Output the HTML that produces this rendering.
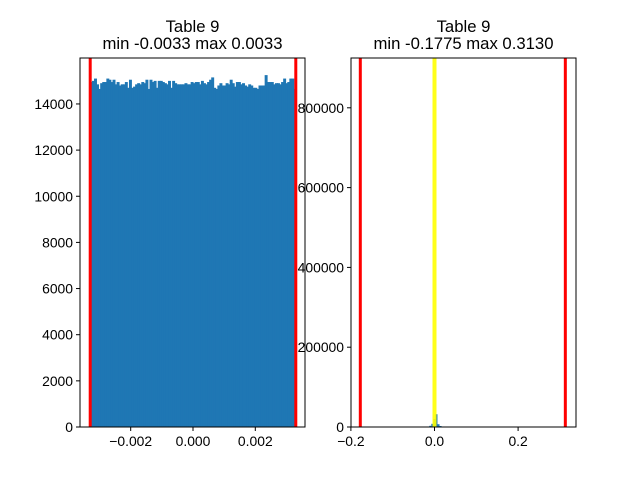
<!DOCTYPE html>
<html><head><meta charset="utf-8"><style>
body{margin:0;background:#fff}
svg{display:block;font-family:"Liberation Sans","DejaVu Sans",sans-serif}
</style></head><body>
<svg id="c" width="640" height="480"></svg>
<script>
const leftCounts=[14950,15000,15100,14850,14650,14900,14950,14950,15100,15050,14950,15050,14850,14950,14800,14850,14850,14950,14700,15050,14700,14750,14850,14900,14850,14950,14900,15050,14650,15050,14950,15000,14700,15000,15000,14950,14900,14850,15000,14700,15000,14900,14850,14850,14850,14850,14900,14850,14850,14950,14900,14950,14950,14850,15000,14900,14850,14950,15050,15150,14700,14650,14800,14900,14800,14800,14900,14850,15050,14900,14750,14950,14950,14850,14900,14800,14750,14850,14800,14700,14700,14650,14800,14800,14800,15250,14950,14950,14950,14850,14900,14900,14850,14950,15100,14900,14950,15100,15100,14650];
const leftMin=-0.0033, leftMax=0.0033;
const rightBins=[[-0.0125,3000],[-0.0076,8000],[-0.0027,20000],[0.0022,32000],[0.0071,7000],[0.012,2500]];
const rightBinW=0.0049;
const leftXTicks=[-0.002,0,0.002], leftXLabels=["\u22120.002","0.000","0.002"];
const leftYTicks=[0,2000,4000,6000,8000,10000,12000,14000];
const rightXTicks=[-0.2,0,0.2], rightXLabels=["\u22120.2","0.0","0.2"];
const rightYTicks=[0,200000,400000,600000,800000];
const NS="http://www.w3.org/2000/svg", svg=document.getElementById('c');
function el(t,a,p){const e=document.createElementNS(NS,t);for(const k in a)e.setAttribute(k,a[k]);(p||svg).appendChild(e);return e;}
function txt(x,y,s,a,p){const e=el('text',Object.assign({x:x,y:y,'font-size':'13.9px',fill:'#000'},a),p);e.textContent=s;return e;}
const lx=v=>193+(v)*31150, ly=v=>427-v*0.023075;
const gl=el('g',{});
const bw=(leftMax-leftMin)/leftCounts.length;
leftCounts.forEach((c,i)=>{const xa=lx(leftMin+i*bw),xb=lx(leftMin+(i+1)*bw);
const r=el('rect',{x:xa-0.3,y:ly(c),width:xb-xa+0.9,height:427-ly(c),fill:'#1f77b4'},gl);
});
[leftMin,leftMax].forEach(v=>{const l=el('line',{x1:lx(v),x2:lx(v),y1:58,y2:427,stroke:'#ff0000','stroke-width':3});
});
el('rect',{x:80,y:58,width:225,height:369,fill:'none',stroke:'#000','stroke-width':1});
leftXTicks.forEach((v,i)=>{el('line',{x1:lx(v),x2:lx(v),y1:427,y2:431,stroke:'#000'});
const t=txt(lx(v),446,leftXLabels[i],{'text-anchor':'middle'});});
leftYTicks.forEach(v=>{el('line',{x1:76,x2:80,y1:ly(v),y2:ly(v),stroke:'#000'});
const t=txt(73,ly(v)+5,String(v),{'text-anchor':'end'});});
let t1=txt(192.5,32,'Table 9',{'text-anchor':'middle','font-size':'16.7px'});
let t2=txt(192.5,49,'min -0.0033 max 0.0033',{'text-anchor':'middle','font-size':'16.7px'});
const rx=v=>434.5+v*418, ry=v=>427-v*0.000399;
const gr=el('g',{});
rightBins.forEach(b=>{const r=el('rect',{x:rx(b[0]),y:ry(b[1]),width:rightBinW*418,height:427-ry(b[1]),fill:'#1f77b4'},gr);
});
[-0.1775,0.313].forEach(v=>{const l=el('line',{x1:rx(v),x2:rx(v),y1:58,y2:427,stroke:'#ff0000','stroke-width':3});
});
const yl=el('line',{x1:rx(0),x2:rx(0),y1:58,y2:427,stroke:'#ffff00','stroke-width':4,'stroke-opacity':0.9});

el('rect',{x:351,y:58,width:225,height:369,fill:'none',stroke:'#000','stroke-width':1});
rightXTicks.forEach((v,i)=>{el('line',{x1:rx(v),x2:rx(v),y1:427,y2:431,stroke:'#000'});
const t=txt(rx(v),446,rightXLabels[i],{'text-anchor':'middle'});});
rightYTicks.forEach(v=>{el('line',{x1:347,x2:351,y1:ry(v),y2:ry(v),stroke:'#000'});
const t=txt(344,ry(v)+5,String(v),{'text-anchor':'end'});});
let t3=txt(463.5,32,'Table 9',{'text-anchor':'middle','font-size':'16.7px'});
let t4=txt(463.5,49,'min -0.1775 max 0.3130',{'text-anchor':'middle','font-size':'16.7px'});
</script>
</body></html>
